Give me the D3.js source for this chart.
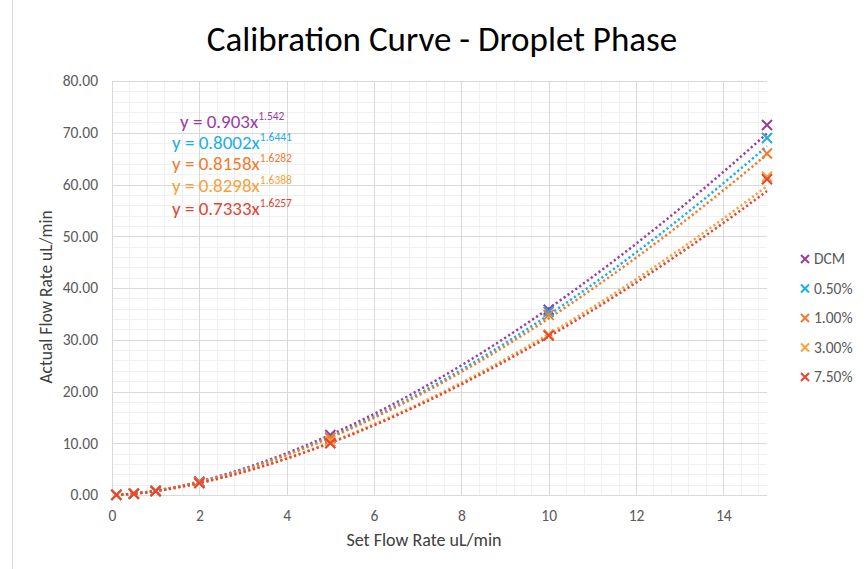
<!DOCTYPE html>
<html>
<head>
<meta charset="utf-8">
<script src="https://cdn.jsdelivr.net/npm/d3@7"></script>
<style>
  body { margin: 0; background: #fff; }
  svg { display: block; font-family: Carlito, Calibri, Lato, sans-serif; }
</style>
</head>
<body>
<svg id="chart" width="867" height="569"></svg>
<script>
'use strict';

var setRates = [0.1, 0.5, 1, 2, 5, 10, 15];
var seriesNames = ['DCM', '0.50%', '1.00%', '3.00%', '7.50%'];
var dcm = [0.02, 0.27, 0.82, 2.6, 11.6, 35.8, 71.5];
var pct050 = [0.02, 0.25, 0.80, 2.5, 11.1, 35.4, 69.0];
var pct100 = [0.02, 0.26, 0.81, 2.5, 11.0, 34.8, 66.0];
var pct300 = [0.02, 0.24, 0.74, 2.3, 10.4, 31.0, 61.5];
var pct750 = [0.02, 0.23, 0.73, 2.3, 10.0, 30.8, 61.0];
var equations = [
  ['y = 0.903x', '1.542'],
  ['y = 0.8002x', '1.6441'],
  ['y = 0.8158x', '1.6282'],
  ['y = 0.8298x', '1.6388'],
  ['y = 0.7333x', '1.6257']
];
var xTicks = [0, 2, 4, 6, 8, 10, 12, 14];
var yTicks = [0, 10, 20, 30, 40, 50, 60, 70, 80];

var colors = ['#9B3C9E', '#1AAEE8', '#F27B2B', '#F9A13A', '#E8432F'];
var values = [dcm, pct050, pct100, pct300, pct750];

var svg = d3.select('#chart');
var x = d3.scaleLinear().domain([0, 15]).range([112, 767]);
var y = d3.scaleLinear().domain([0, 80]).range([495, 81]);

// chart area border (only the left edge shows in the picture)
svg.append('line')
  .attr('x1', 12.5).attr('x2', 12.5)
  .attr('y1', 0).attr('y2', 569)
  .attr('stroke', '#d9d9d9');

// minor grid
var minorX = d3.range(0, 15, 0.4);
var minorY = d3.range(0, 80, 2);
svg.append('g').selectAll('line').data(minorX).enter().append('line')
  .attr('x1', d => Math.round(x(d)) + 0.5).attr('x2', d => Math.round(x(d)) + 0.5)
  .attr('y1', y(80)).attr('y2', y(0))
  .attr('stroke', '#f0f0f0');
svg.append('g').selectAll('line').data(minorY).enter().append('line')
  .attr('x1', x(0)).attr('x2', x(15))
  .attr('y1', d => Math.round(y(d)) + 0.5).attr('y2', d => Math.round(y(d)) + 0.5)
  .attr('stroke', '#f0f0f0');

// major grid
svg.append('g').selectAll('line').data(xTicks).enter().append('line')
  .attr('x1', d => Math.round(x(d)) + 0.5).attr('x2', d => Math.round(x(d)) + 0.5)
  .attr('y1', y(80)).attr('y2', y(0))
  .attr('stroke', '#d9d9d9');
svg.append('g').selectAll('line').data(yTicks).enter().append('line')
  .attr('x1', x(0)).attr('x2', x(15))
  .attr('y1', d => Math.round(y(d)) + 0.5).attr('y2', d => Math.round(y(d)) + 0.5)
  .attr('stroke', '#d9d9d9');

// axes (labels only, lines come from grid)
var xAxis = svg.append('g')
  .attr('transform', 'translate(0,' + y(0) + ')')
  .call(d3.axisBottom(x).tickValues(xTicks).tickSize(0).tickPadding(15));
var yAxis = svg.append('g')
  .attr('transform', 'translate(' + x(0) + ',0)')
  .call(d3.axisLeft(y).tickValues(yTicks).tickSize(0).tickPadding(14).tickFormat(d3.format('.2f')));
[xAxis, yAxis].forEach(function(ax) {
  ax.select('.domain').remove();
  ax.selectAll('text')
    .attr('font-family', 'Carlito, Calibri, Lato, sans-serif')
    .attr('font-size', 15.5)
    .attr('fill', '#595959');
});

// power trendlines, least squares on ln(x), ln(y) like Excel
function powerFit(xs, ys) {
  var lx = xs.map(Math.log), ly = ys.map(Math.log);
  var mx = d3.mean(lx), my = d3.mean(ly);
  var sxy = d3.sum(lx, (v, i) => (v - mx) * (ly[i] - my));
  var sxx = d3.sum(lx, v => (v - mx) * (v - mx));
  var b = sxy / sxx;
  return { a: Math.exp(my - b * mx), b: b };
}

var line = d3.line().x(d => x(d[0])).y(d => y(d[1]));
var samples = d3.range(0, 201).map(i => 0.1 + i * (15 - 0.1) / 200);
values.forEach(function(vals, i) {
  var fit = powerFit(setRates, vals);
  svg.append('path')
    .datum(samples.map(s => [s, fit.a * Math.pow(s, fit.b)]))
    .attr('d', line)
    .attr('fill', 'none')
    .attr('stroke', colors[i])
    .attr('stroke-width', 2.5)
    .attr('stroke-dasharray', '2.2,2.6');
});

// x markers
function cross(sel, size) {
  sel.append('path')
    .attr('d', 'M' + (-size) + ',' + (-size) + 'L' + size + ',' + size + 'M' + (-size) + ',' + size + 'L' + size + ',' + (-size))
    .attr('stroke-width', 2);
}
values.forEach(function(vals, i) {
  svg.append('g').selectAll('g').data(vals).enter().append('g')
    .attr('transform', (d, j) => 'translate(' + x(setRates[j]) + ',' + y(d) + ')')
    .attr('stroke', colors[i])
    .call(cross, 5);
});

// trendline equations
var eqPos = [[180, 128], [172, 149], [172, 170], [172, 192], [172, 215]];
equations.forEach(function(eq, i) {
  var t = svg.append('text')
    .attr('x', eqPos[i][0]).attr('y', eqPos[i][1])
    .attr('font-size', 19)
    .attr('fill', colors[i]);
  t.append('tspan').text(eq[0]);
  t.append('tspan').attr('dy', -8).attr('font-size', 11.5).text(eq[1]);
});

// legend
var legend = svg.append('g').selectAll('g').data(seriesNames).enter().append('g')
  .attr('transform', (d, i) => 'translate(805,' + (259 + i * 29.5) + ')');
legend.append('g')
  .attr('stroke', (d, i) => colors[i])
  .call(cross, 4);
legend.append('text')
  .attr('x', 9).attr('dy', '0.35em')
  .attr('font-size', 15.5)
  .attr('fill', '#595959')
  .text(d => d);

// titles
svg.append('text')
  .attr('x', 442).attr('y', 51)
  .attr('text-anchor', 'middle')
  .attr('font-size', 35)
  .attr('fill', '#000')
  .text('Calibration Curve - Droplet Phase');
svg.append('text')
  .attr('x', 424).attr('y', 546)
  .attr('text-anchor', 'middle')
  .attr('font-size', 18)
  .attr('fill', '#404040')
  .text('Set Flow Rate uL/min');
svg.append('text')
  .attr('transform', 'translate(52,297)rotate(-90)')
  .attr('text-anchor', 'middle')
  .attr('font-size', 17.5)
  .attr('fill', '#404040')
  .text('Actual Flow Rate uL/min');
</script>
</body>
</html>
